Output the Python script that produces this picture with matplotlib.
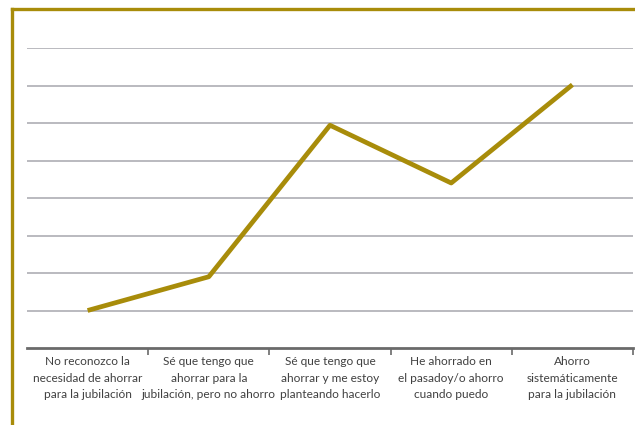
import matplotlib
matplotlib.use("Agg")
import matplotlib.pyplot as plt
from matplotlib.lines import Line2D

# categories and values (grid step = 5)
categories = [
    "No reconozco la\nnecesidad de ahorrar\npara la jubilación",
    "Sé que tengo que\nahorrar para la\njubilación, pero no ahorro",
    "Sé que tengo que\nahorrar y me estoy\nplanteando hacerlo",
    "He ahorrado en\nel pasadoy/o ahorro\ncuando puedo",
    "Ahorro\nsistemáticamente\npara la jubilación",
]
values = [5.0, 9.5, 29.7, 22.0, 35.1]
grid_levels = [5, 10, 15, 20, 25, 30, 35, 40]

gold = "#A88C0A"

plt.rcParams['font.family'] = ['Lato', 'DejaVu Sans']

fig = plt.figure(figsize=(6.35, 4.25), dpi=100)
ax = fig.add_axes([27 / 635, 77 / 425, 606 / 635, 300 / 425])

for g in grid_levels:
    ax.axhline(g, color="#B4B4BA", lw=1.3, zorder=1)

x = list(range(len(categories)))
ax.plot(x, values, color=gold, lw=3.4, solid_capstyle="butt", zorder=3)

ax.set_xlim(-0.5, len(categories) - 0.5)
ax.set_ylim(0, 40)

for s in ["top", "right", "left"]:
    ax.spines[s].set_visible(False)
ax.spines["bottom"].set_color("#6A6A6A")
ax.spines["bottom"].set_linewidth(2)

ax.set_yticks([])
ax.set_xticks(x)
ax.set_xticklabels(categories, fontsize=8.6, color="#404040", linespacing=1.6)
ax.tick_params(axis="x", which="major", length=0, pad=6)
ax.set_xticks([i + 0.5 for i in x], minor=True)
ax.tick_params(axis="x", which="minor", length=5, width=1.2, color="#6A6A6A", direction="out")

# gold frame (cropped at right and bottom)
fig.add_artist(Line2D([12 / 635, 12 / 635], [0, 1 - 9 / 425], transform=fig.transFigure,
                      color=gold, lw=2.4))
fig.add_artist(Line2D([12 / 635, 1], [1 - 9 / 425, 1 - 9 / 425], transform=fig.transFigure,
                      color=gold, lw=2.4, solid_capstyle="projecting"))

fig.savefig("out.png", dpi=100)
